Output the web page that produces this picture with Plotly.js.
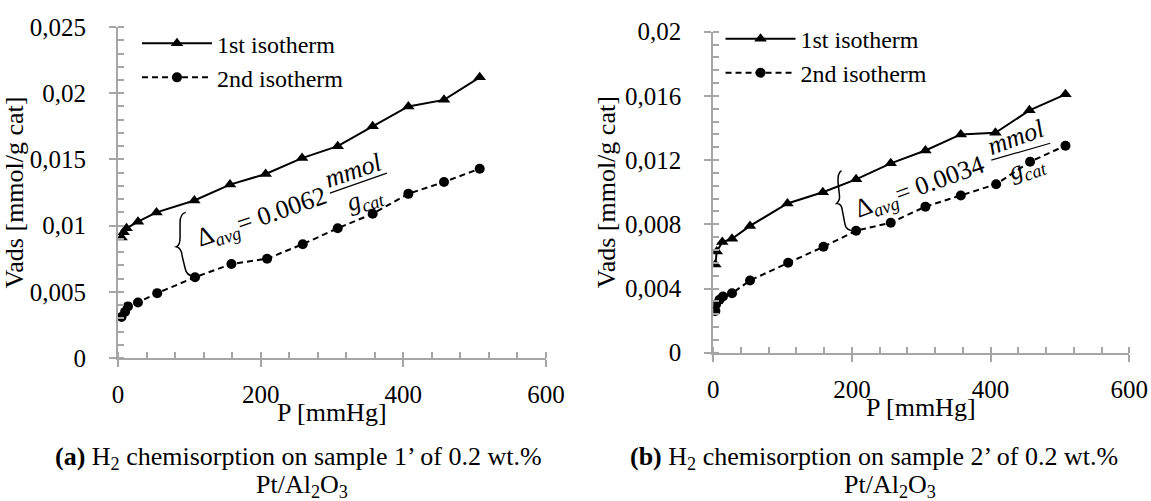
<!DOCTYPE html>
<html><head><meta charset="utf-8">
<script src="https://cdn.plot.ly/plotly-3.0.1.min.js"></script>
<style>
html,body{margin:0;padding:0;background:#fff}
#chart{width:1151px;height:501px}
#chart text{font-family:'Liberation Serif','Times New Roman',serif !important;}
</style>
</head><body><div id="chart"></div>
<script>
// Panel (a): sample 1'
const pA1 = [5, 8, 12, 28, 54, 107, 157, 207, 258, 308, 357, 407, 457, 507];
const vA1 = [0.0091, 0.0095, 0.0098, 0.0103, 0.0110, 0.0119, 0.0131, 0.0139, 0.0151, 0.0160, 0.0175, 0.0190, 0.0195, 0.0212];
const pA2 = [5, 10, 14, 28, 55, 108, 159, 209, 259, 308, 357, 407, 457, 507];
const vA2 = [0.0031, 0.0035, 0.0039, 0.0042, 0.0049, 0.0061, 0.0071, 0.0075, 0.0086, 0.0098, 0.0109, 0.0124, 0.0133, 0.0143];
// Panel (b): sample 2'
const pB1 = [3, 5, 13, 27, 53, 107, 158, 206, 256, 306, 357, 407, 456, 508];
const vB1 = [0.0055, 0.0063, 0.0069, 0.0071, 0.0079, 0.0093, 0.0100, 0.0108, 0.0118, 0.0126, 0.0136, 0.0137, 0.0151, 0.0161];
const pB2 = [3, 4, 9, 14, 27, 53, 108, 159, 206, 256, 306, 357, 408, 457, 508];
const vB2 = [0.0026, 0.0030, 0.0033, 0.0035, 0.0037, 0.0045, 0.0056, 0.0066, 0.0076, 0.0081, 0.0091, 0.0098, 0.0105, 0.0119, 0.0129];

const seriesNames = ['1st isotherm', '2nd isotherm'];
const deltaA = '0.0062';
const deltaB = '0.0034';
const xTitle = 'P [mmHg]';
const yTitle = 'Vads [mmol/g cat]';
const captionA1 = '<b>(a)</b> H<sub>2</sub> chemisorption on sample 1’ of 0.2 wt.%';
const captionB1 = '<b>(b)</b> H<sub>2</sub> chemisorption on sample 2’ of 0.2 wt.%';
const caption2 = 'Pt/Al<sub>2</sub>O<sub>3</sub>';

const FONT = 'Liberation Serif, Times New Roman, serif';
const GRAY = '#a6a6a6';

function line1(x, y, xa, ya, lg) {
  return {x, y, xaxis: xa, yaxis: ya, legend: lg, name: seriesNames[0], type: 'scatter', mode: 'lines+markers',
    line: {color: '#000', width: 2}, marker: {symbol: 'triangle-up', size: 11, color: '#000'}};
}
function line2(x, y, xa, ya, lg) {
  return {x, y, xaxis: xa, yaxis: ya, legend: lg, name: seriesNames[1], type: 'scatter', mode: 'lines+markers',
    line: {color: '#000', width: 2, dash: '6px,4px'}, marker: {symbol: 'circle', size: 10, color: '#000'}};
}
// empty helper traces so the overlay axes (inner half of the crossing major ticks) get drawn
function tickHelper(xa, ya) {
  return {x: [], y: [], xaxis: xa, yaxis: ya, type: 'scatter', mode: 'markers', showlegend: false, hoverinfo: 'skip'};
}
const data = [
  line1(pA1, vA1, 'x', 'y', 'legend'),
  line2(pA2, vA2, 'x', 'y', 'legend'),
  line1(pB1, vB1, 'x2', 'y2', 'legend2'),
  line2(pB2, vB2, 'x2', 'y2', 'legend2'),
  tickHelper('x3', 'y3'),
  tickHelper('x4', 'y4')
];

function xax(domain, anchor) {
  return {domain, anchor, range: [0, 600], tick0: 0, dtick: 200, ticks: 'outside', ticklen: 7, tickwidth: 2, tickcolor: GRAY,
    showline: true, linecolor: GRAY, linewidth: 2, showgrid: false, zeroline: false, ticklabelstandoff: 6,
    minor: {dtick: 40, ticks: 'inside', ticklen: 6, tickwidth: 2, tickcolor: GRAY},
    tickfont: {family: FONT, size: 25, color: '#000'}};
}
function yax(domain, anchor, range, dtick, minor) {
  return {domain, anchor, range, tick0: 0, dtick, ticks: 'outside', ticklen: 7, tickwidth: 2, tickcolor: GRAY,
    showline: true, linecolor: GRAY, linewidth: 2, showgrid: false, zeroline: false, ticklabelstandoff: 18,
    minor: {dtick: minor, ticks: 'inside', ticklen: 6, tickwidth: 2, tickcolor: GRAY},
    tickfont: {family: FONT, size: 25, color: '#000'},
    title: {text: yTitle, font: {family: FONT, size: 26, color: '#000'}, standoff: 2}};
}
function innerTicks(over, anchor, range, dtick) {
  return {overlaying: over, anchor, range, tick0: 0, dtick, ticks: 'inside', ticklen: 6, tickwidth: 2, tickcolor: GRAY,
    showticklabels: false, showline: false, showgrid: false, zeroline: false};
}

const annFont = {family: FONT, size: 26, color: '#000'};
function ann(x, y, xr, yr, text, angle) {
  return {x, y, xref: xr, yref: yr, text, textangle: angle, showarrow: false, font: annFont, xanchor: 'center', yanchor: 'middle'};
}
function paperText(x, y, text, size) {
  return {x, y, xref: 'paper', yref: 'paper', text, showarrow: false, align: 'center', xanchor: 'center', yanchor: 'middle',
    font: {family: FONT, size, color: '#000'}};
}
function legendBox(x, y) {
  return {x, y, xanchor: 'left', yanchor: 'top', bgcolor: 'rgba(0,0,0,0)', itemwidth: 70,
    font: {family: FONT, size: 24, color: '#000'}, tracegroupgap: 0};
}

const layout = {
  width: 1151, height: 501,
  margin: {l: 0, r: 0, t: 0, b: 0},
  paper_bgcolor: '#fff', plot_bgcolor: 'rgba(0,0,0,0)',
  separators: ', ',
  font: {family: FONT, color: '#000'},
  xaxis: xax([0.1025, 0.4744], 'y'),
  yaxis: yax([0.2854, 0.946], 'x', [0, 0.025], 0.005, 0.001),
  xaxis2: xax([0.6197, 0.9811], 'y2'),
  yaxis2: yax([0.296, 0.9367], 'x2', [0, 0.02], 0.004, 0.0008),
  xaxis3: innerTicks('x', 'y3', [0, 600], 200),
  yaxis3: innerTicks('y', 'x3', [0, 0.025], 0.005),
  xaxis4: innerTicks('x2', 'y4', [0, 600], 200),
  yaxis4: innerTicks('y2', 'x4', [0, 0.02], 0.004),
  legend: legendBox(0.119, 0.958),
  legend2: legendBox(0.626, 0.967),
  shapes: [
    // braces and fraction bars
    {type: 'path', xref: 'x', yref: 'y', path: 'M 95 0.0110 Q 87 0.0109 87 0.0102 L 87 0.0091 Q 87 0.0085 82 0.0084 Q 89 0.0083 90 0.0077 L 94 0.0068 Q 96 0.0062 106 0.0062', line: {color: '#000', width: 1.5}},
    {type: 'line', xref: 'x', yref: 'y', x0: 297, y0: 0.01246, x1: 377, y1: 0.01397, line: {color: '#000', width: 1.2}},
    {type: 'path', xref: 'x2', yref: 'y2', path: 'M 185 0.01135 Q 179 0.0112 180 0.0106 L 182 0.0098 Q 183 0.0095 178 0.0093 Q 185 0.0093 186 0.0089 L 190 0.0080 Q 192 0.0076 203 0.0076', line: {color: '#000', width: 1.5}},
    {type: 'line', xref: 'x2', yref: 'y2', x0: 401, y0: 0.0120, x1: 486, y1: 0.01305, line: {color: '#000', width: 1.2}}
  ],
  annotations: [
    ann(202, 0.01057, 'x', 'y', 'Δ<sub><i>avg</i></sub>= ' + deltaA, -19),
    ann(330, 0.0142, 'x', 'y', '<i>mmol</i>', -19),
    ann(346, 0.0120, 'x', 'y', '<i>g</i><sub><i>cat</i></sub>', -19),
    ann(298, 0.01026, 'x2', 'y2', 'Δ<sub><i>avg</i></sub>= ' + deltaB, -20),
    ann(436, 0.01338, 'x2', 'y2', '<i>mmol</i>', -20),
    ann(452, 0.01151, 'x2', 'y2', '<i>g</i><sub><i>cat</i></sub>', -20),
    paperText(0.2885, 0.176, xTitle, 26),
    paperText(0.8004, 0.186, xTitle, 26),
    paperText(0.259, 0.086, captionA1, 26),
    paperText(0.262, 0.030, caption2, 26),
    paperText(0.759, 0.086, captionB1, 26),
    paperText(0.773, 0.030, caption2, 26)
  ]
};

Plotly.newPlot('chart', data, layout, {staticPlot: true, displayModeBar: false});
</script>
</body></html>
